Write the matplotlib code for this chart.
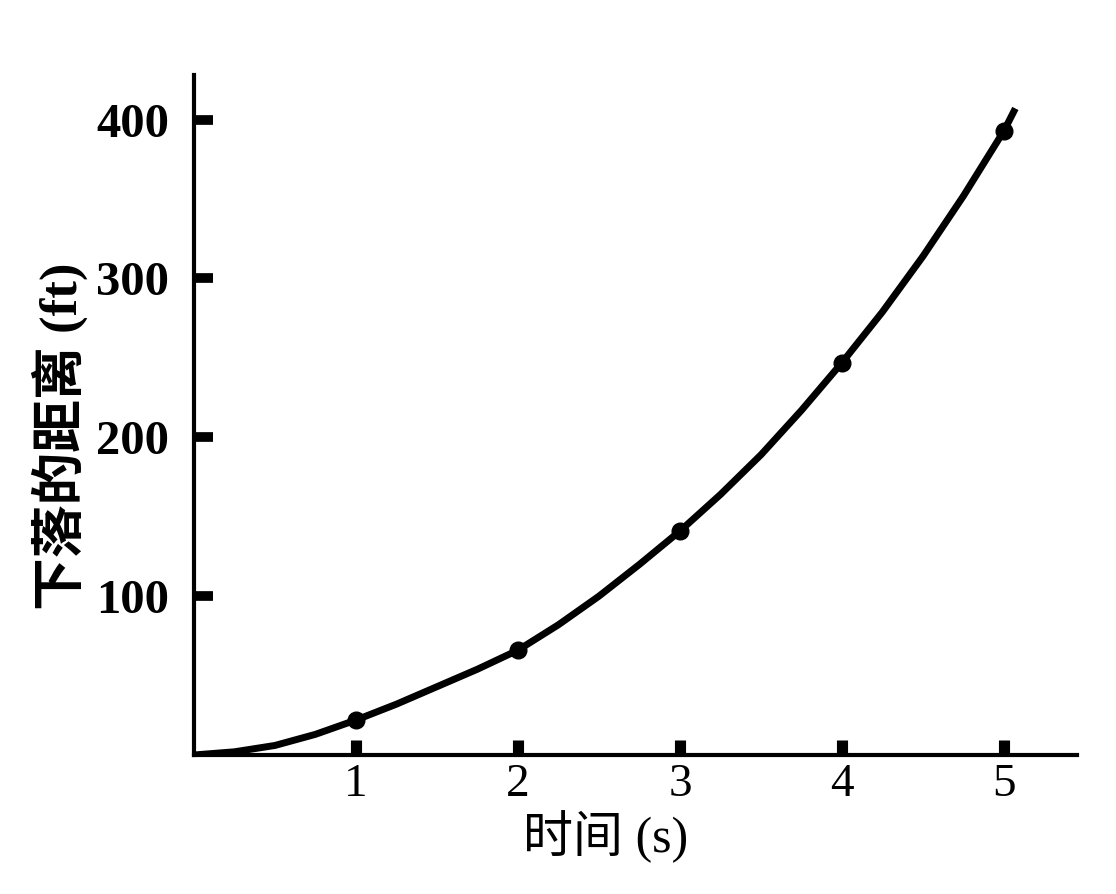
import matplotlib
matplotlib.use("Agg")
import matplotlib.pyplot as plt

# measured points (time in s, distance in ft)
times = [1, 2, 3, 4, 5]
dist = [22, 66, 141, 247, 393]

# smooth curve
curve_t = [0, 0.25, 0.5, 0.75, 1, 1.25, 1.5, 1.75, 2, 2.25, 2.5, 2.75, 3,
           3.25, 3.5, 3.75, 4, 4.25, 4.5, 4.75, 5, 5.07]
curve_d = [0, 2, 6, 13, 22, 32, 43, 54, 66, 82, 100, 120, 141,
           164, 189, 217, 247, 279, 314, 352, 393, 407]

x_ticks = [1, 2, 3, 4, 5]
y_ticks = [100, 200, 300, 400]

fig = plt.figure(figsize=(11.16, 8.94), dpi=100)
ax = fig.add_axes([0.1738, 0.1555, 0.7912, 0.7605])

ax.plot(curve_t, curve_d, color="black", lw=5, solid_capstyle="butt",
        solid_joinstyle="round", zorder=3)
ax.plot(times, dist, "o", color="black", ms=12, zorder=4)

ax.set_xlim(0, 5.45)
ax.set_ylim(0, 428)

for side in ("top", "right"):
    ax.spines[side].set_visible(False)
for side in ("left", "bottom"):
    ax.spines[side].set_linewidth(3)

ax.set_xticks(x_ticks)
ax.set_yticks(y_ticks)
ax.tick_params(axis="x", direction="in", length=11, width=8, pad=6)
ax.tick_params(axis="y", direction="in", length=14, width=7, pad=18)

serif = ["Liberation Serif", "Noto Sans CJK SC"]
ax.set_xticklabels([str(v) for v in x_ticks], family=serif, fontsize=34)
ax.set_yticklabels([str(v) for v in y_ticks], family=serif, fontsize=35, fontweight="bold")

ax.set_xlabel("时间 (s)", family=serif, fontsize=36)
ax.set_ylabel("下落的距离 (ft)", family=serif, fontsize=38, fontweight="bold")
ax.xaxis.set_label_coords(0.466, -0.081)
ax.yaxis.set_label_coords(-0.120, 0.469)

fig.savefig("out.png", dpi=100, facecolor="white")
